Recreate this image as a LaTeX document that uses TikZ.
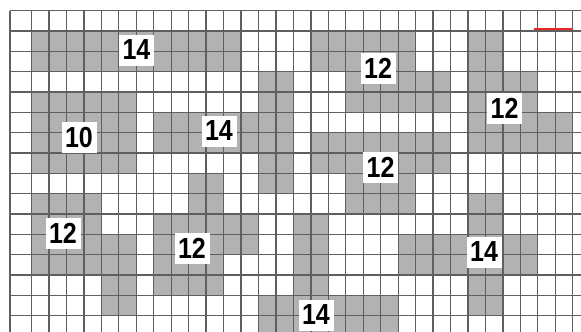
\documentclass[tikz,border=0pt]{standalone}
\usepackage{fontspec}
\usepackage{graphicx}
\setmainfont{Liberation Sans}
\definecolor{cellgray}{RGB}{178,178,178}
\definecolor{gridline}{RGB}{95,95,95}
\definecolor{markred}{RGB}{230,40,40}
\tikzset{
  gridstroke/.style={draw=gridline,line width=1.3pt},
  numbox/.style={fill=white,inner sep=0pt,minimum width=35pt,minimum height=31pt,
    font=\bfseries\fontsize{25}{25}\selectfont},
}
\newcommand\gblock[4]{%
  \pgfmathsetmacro\xa{#1==0 ? 10 : 31.5+17.46*(#1-1)}%
  \pgfmathsetmacro\xb{min(581,31.5+17.46*#2)}%
  \pgfmathsetmacro\ya{#3==0 ? 10.5 : 31+20.33*(#3-1)}%
  \pgfmathsetmacro\yb{min(332,31+20.33*#4)}%
  \fill[cellgray] (\xa,\ya) rectangle (\xb,\yb);%
}
\newcommand\numtext[1]{\scalebox{1}[1.16]{#1}}
\begin{document}
\begin{tikzpicture}[x=1pt,y=-1pt]
\useasboundingbox (0,0) rectangle (581,332);
\fill[white] (0,0) rectangle (581,332);
% gray blocks (columns c1..c2, rows r1..r2)
\gblock{1}{12}{1}{2}
\gblock{17}{22}{1}{2}
\gblock{19}{24}{3}{4}
\gblock{26}{27}{1}{2}
\gblock{26}{29}{3}{4}
\gblock{26}{31}{5}{6}
\gblock{1}{6}{4}{7}
\gblock{8}{15}{5}{6}
\gblock{14}{15}{3}{4}
\gblock{14}{15}{7}{8}
\gblock{17}{24}{6}{7}
\gblock{19}{22}{8}{9}
\gblock{1}{4}{9}{10}
\gblock{1}{6}{11}{12}
\gblock{5}{6}{13}{14}
\gblock{10}{11}{8}{9}
\gblock{8}{13}{10}{11}
\gblock{8}{11}{12}{13}
\gblock{16}{17}{10}{13}
\gblock{14}{21}{14}{15}
\gblock{26}{27}{9}{14}
\gblock{22}{29}{11}{12}
% grid lines
\draw[gridstroke] (10,10.5) -- (10,332);
\foreach \k in {0,...,31}{
  \pgfmathsetmacro\gx{31.5+17.46*\k}
  \draw[gridstroke] (\gx,10.5) -- (\gx,332);
}
\draw[gridstroke] (10,10.5) -- (581,10.5);
\foreach \k in {0,...,14}{
  \pgfmathsetmacro\gy{31+20.33*\k}
  \draw[gridstroke] (10,\gy) -- (581,\gy);
}
% red mark
\coordinate (ra) at (534,28.6);
\coordinate (rb) at (572.5,28.6);
\draw[markred,line width=2pt] (ra) -- (rb);
% labels
\node[numbox] (l1) at (136.5,50) {\numtext{14}};
\node[numbox] (l2) at (378,68.5) {\numtext{12}};
\node[numbox] (l3) at (504.5,108) {\numtext{12}};
\node[numbox] (l4) at (79,137.5) {\numtext{10}};
\node[numbox] (l5) at (219,131) {\numtext{14}};
\node[numbox] (l6) at (380.5,167) {\numtext{12}};
\node[numbox] (l7) at (63,233) {\numtext{12}};
\node[numbox] (l8) at (192,248) {\numtext{12}};
\node[numbox] (l9) at (484,252) {\numtext{14}};
\node[numbox] (l10) at (316,315) {\numtext{14}};
\end{tikzpicture}
\end{document}
